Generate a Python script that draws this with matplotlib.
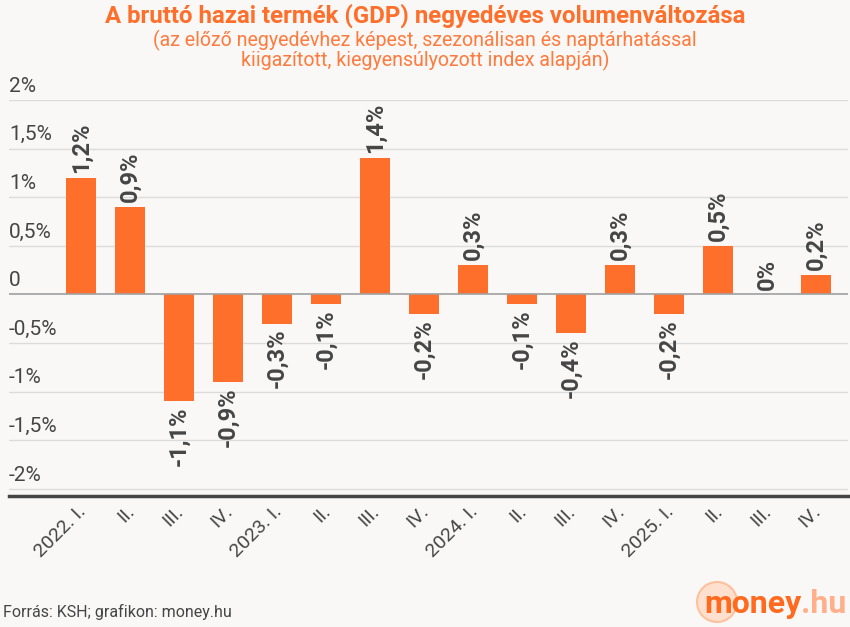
import matplotlib.pyplot as plt
from matplotlib.patches import Ellipse
import matplotlib.transforms as mtransforms

# data
quarters = ['2022. I.', 'II.', 'III.', 'IV.',
            '2023. I.', 'II.', 'III.', 'IV.',
            '2024. I.', 'II.', 'III.', 'IV.',
            '2025. I.', 'II.', 'III.', 'IV.']
gdp_change = [1.2, 0.9, -1.1, -0.9, -0.3, -0.1, 1.4, -0.2,
              0.3, -0.1, -0.4, 0.3, -0.2, 0.5, 0.0, 0.2]
ytick_vals = [2, 1.5, 1, 0.5, 0, -0.5, -1, -1.5, -2]

bg = '#f9f8f6'
orange = '#fd6f2b'
dark = '#454545'

plt.rcParams['font.family'] = ['Roboto', 'DejaVu Sans']


def fmt(v):
    if v == 0:
        return '0'
    return ('%g' % v).replace('.', ',') + '%'


def main():
    fig = plt.figure(figsize=(8.5, 6.27), dpi=100, facecolor=bg)
    ax = fig.add_axes([9 / 850, 131 / 627, 839 / 850, 396 / 627])
    ax.set_facecolor(bg)

    x = list(range(len(quarters)))
    ax.bar(x, gdp_change, width=0.62, color=orange, zorder=3)

    ax.set_xlim(-1.469, 15.653)
    ax.set_ylim(-2.072, 2.0)

    # gridlines + labels inside the axes
    trans = mtransforms.blended_transform_factory(ax.transAxes, ax.transData)
    for v in ytick_vals:
        ax.axhline(v, color='#a0a0a0' if v == 0 else '#dcdcdc',
                   lw=1.2 if v == 0 else 1, zorder=1 if v else 4)
        ax.text(0.0, v + 0.045, fmt(v), transform=trans, ha='left', va='bottom',
                fontsize=15, color=dark)

    ax.set_yticks([])
    for s in ['top', 'right', 'left']:
        ax.spines[s].set_visible(False)
    ax.spines['bottom'].set_color(dark)
    ax.spines['bottom'].set_linewidth(2.5)

    ax.set_xticks(x)
    ax.set_xticklabels(quarters, rotation=45, ha='right', va='center',
                       rotation_mode='anchor', fontsize=14, color=dark)
    ax.tick_params(axis='x', length=0, pad=9)
    for lbl in ax.get_xticklabels():
        lbl.set_transform(lbl.get_transform() +
                          mtransforms.ScaledTranslation(2 / 100, 0, fig.dpi_scale_trans))

    # value labels
    for xi, v in zip(x, gdp_change):
        lab = ('%g' % v).replace('.', ',') + '%'
        if v >= 0:
            ax.text(xi, v + 0.05, lab, rotation=90, ha='center', va='bottom',
                    fontsize=17, fontweight='bold', color=dark, zorder=5)
        else:
            ax.text(xi, v - 0.05, lab, rotation=90, ha='center', va='top',
                    fontsize=17, fontweight='bold', color=dark, zorder=5)

    # titles
    fig.text(0.5, 1 - 16 / 627, 'A bruttó hazai termék (GDP) negyedéves volumenváltozása',
             ha='center', va='center', fontsize=17.3, fontweight='bold', color=orange)
    fig.text(0.5, 1 - 40 / 627, '(az előző negyedévhez képest, szezonálisan és naptárhatással',
             ha='center', va='center', fontsize=14.1, color='#ff7a3d')
    fig.text(0.5, 1 - 60 / 627, 'kiigazított, kiegyensúlyozott index alapján)',
             ha='center', va='center', fontsize=14.1, color='#ff7a3d')

    # footer
    fig.text(3 / 850, 1 - 612 / 627, 'Forrás: KSH; grafikon: money.hu',
             ha='left', va='center', fontsize=11.5, color=dark)

    # logo
    circ = Ellipse((717 / 850, 1 - 602 / 627), 40 / 850, 40 / 627,
                   transform=fig.transFigure, facecolor='#ffe0cf',
                   edgecolor='#ffc09c', lw=1.5, zorder=0)
    fig.patches.append(circ)
    money = fig.text(704 / 850, 1 - 604 / 627, 'money', ha='left', va='center',
                     fontsize=23, fontweight='bold', color='#ff6a1f')
    renderer = fig.canvas.get_renderer()
    bb = money.get_window_extent(renderer)
    fig.text(bb.x1 / 850, 1 - 604 / 627, '.hu', ha='left', va='center',
             fontsize=23, fontweight='bold', color='#ffb08a')

    fig.savefig('out.png', dpi=100, facecolor=bg)


if __name__ == "__main__":
    main()
